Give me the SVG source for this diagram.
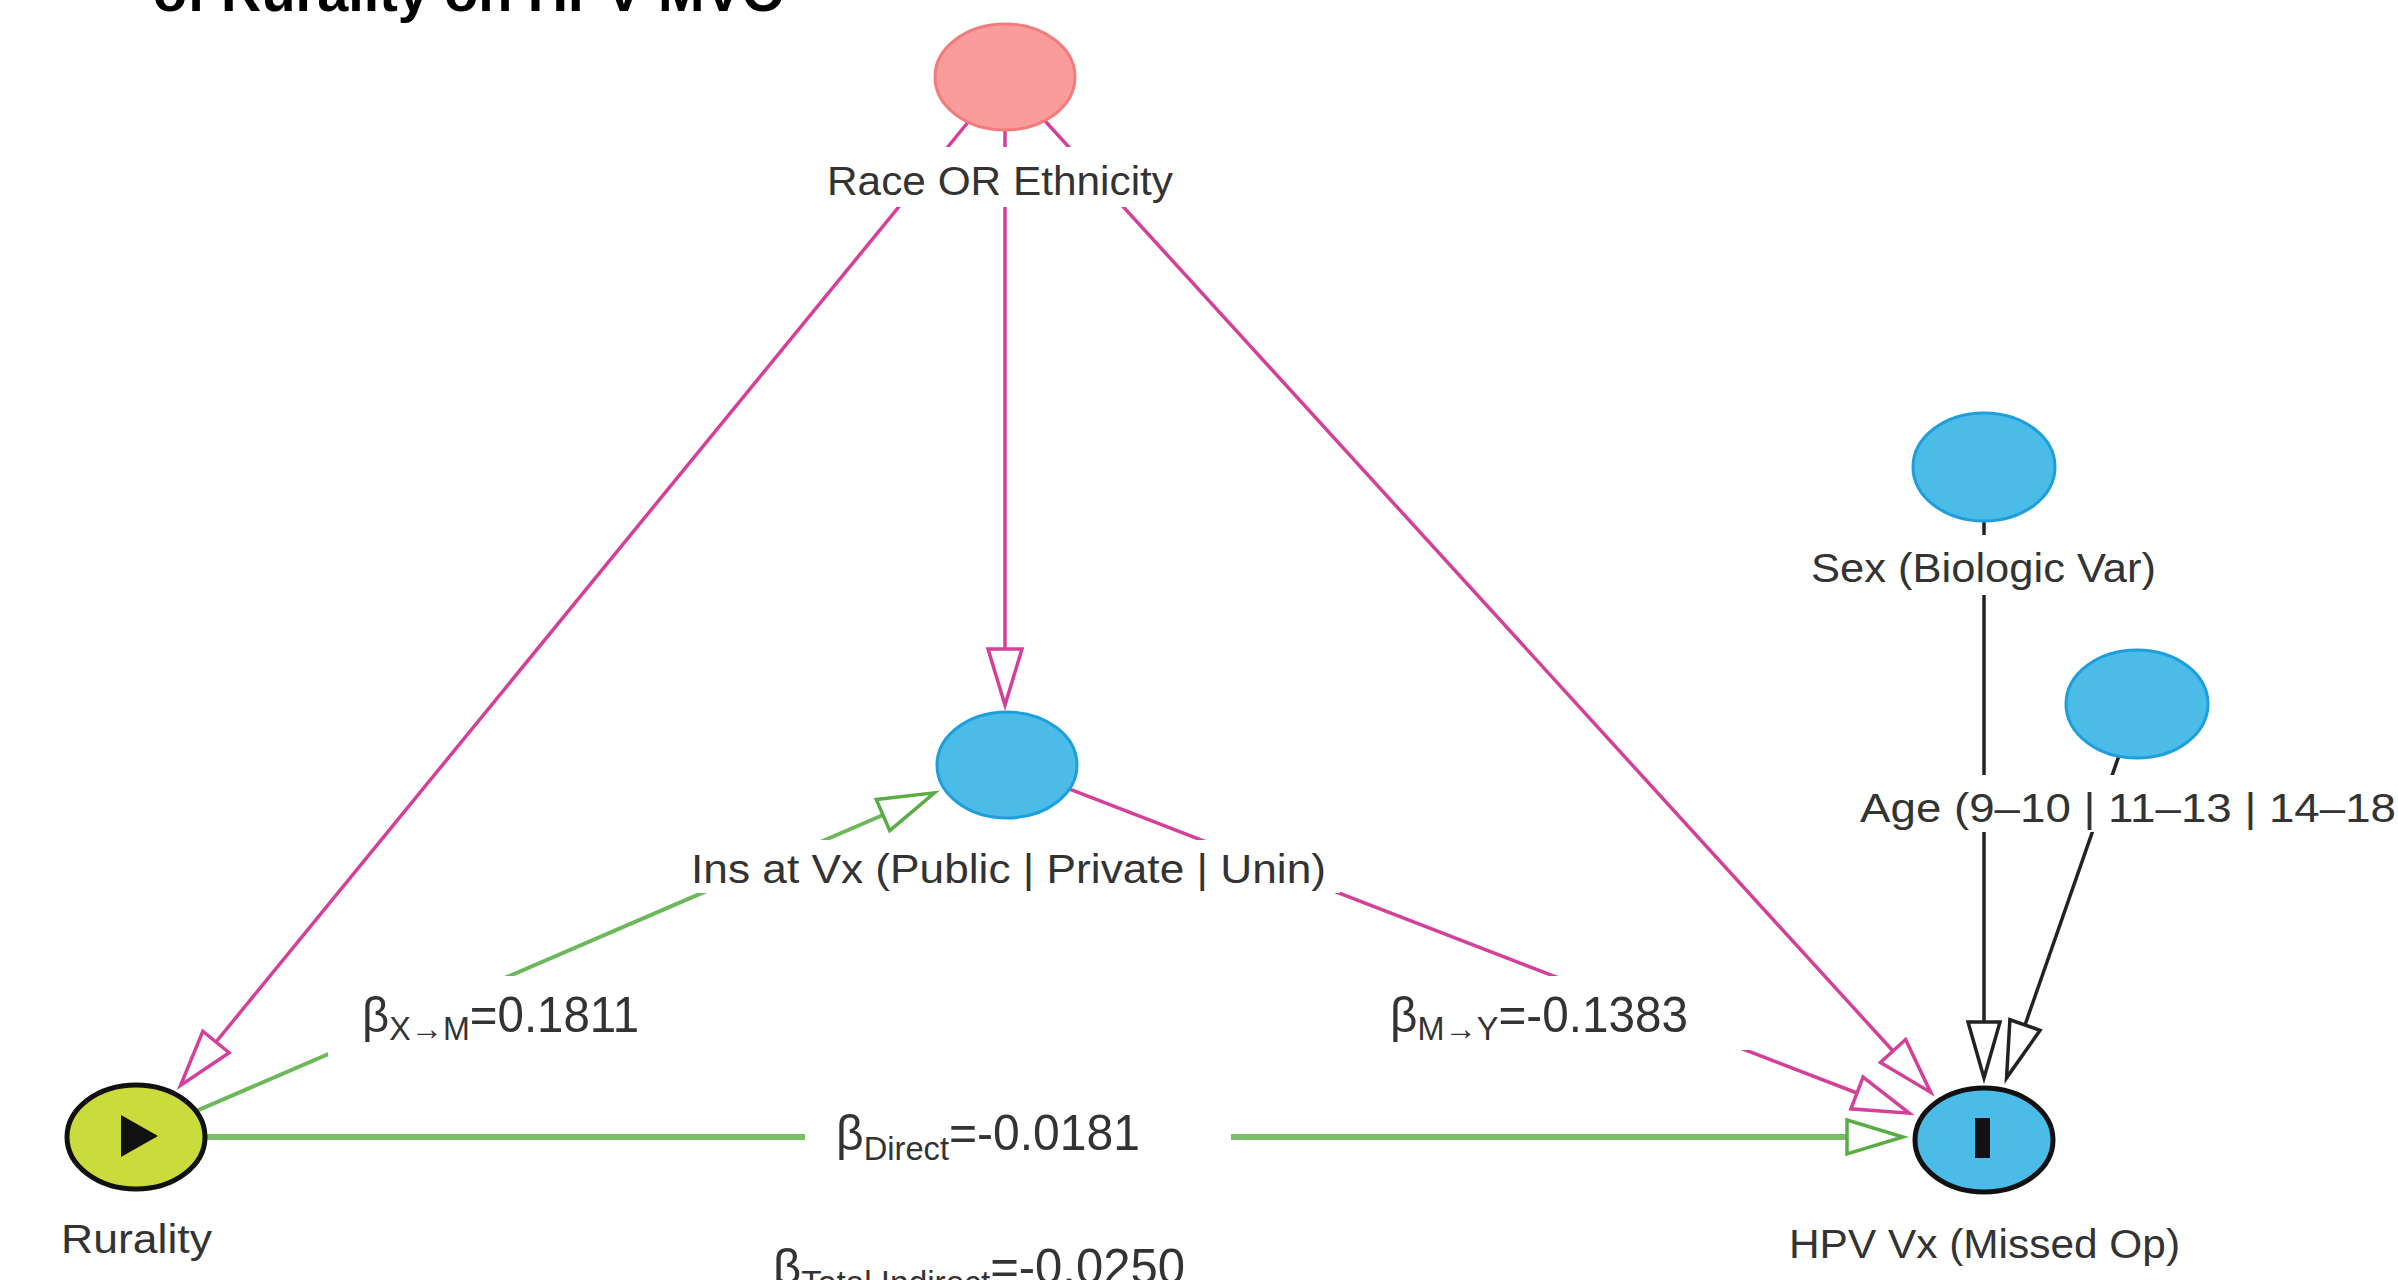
<svg xmlns="http://www.w3.org/2000/svg" width="2398" height="1280" viewBox="0 0 2398 1280">
<style>
.lbl{font-family:"Liberation Sans","Open Sans",Arial,sans-serif;font-size:40px;fill:#333;}
.beta{font-family:"Liberation Sans",Arial,sans-serif;font-size:50px;fill:#333;}
.sub{font-size:34px;}
.bg{fill:#fff;}
.pink{stroke:#d43f9a;stroke-width:3.5;fill:none;}
.green{stroke:#6cb85a;stroke-width:4;fill:none;}
.greenh{stroke:#78c066;stroke-width:6;fill:none;}
.black{stroke:#222;stroke-width:3.5;fill:none;}
.blue{fill:#4bbbe8;stroke:#1e9fdb;stroke-width:3;}
</style>
<defs>
<marker id="ahPink" markerUnits="userSpaceOnUse" markerWidth="64" markerHeight="44" refX="3" refY="20" orient="auto" overflow="visible">
<path d="M3,3 L59,20 L3,37 Z" fill="#fff" stroke="#d43f9a" stroke-width="3.5"/>
</marker>
<marker id="ahGreen" markerUnits="userSpaceOnUse" markerWidth="64" markerHeight="44" refX="3" refY="20" orient="auto" overflow="visible">
<path d="M3,3 L59,20 L3,37 Z" fill="#fff" stroke="#5aad45" stroke-width="3.5"/>
</marker>
<marker id="ahBlack" markerUnits="userSpaceOnUse" markerWidth="64" markerHeight="44" refX="3" refY="20" orient="auto" overflow="visible">
<path d="M3,4 L59,20 L3,36 Z" fill="#fff" stroke="#222" stroke-width="3.5"/>
</marker>
</defs>
<rect width="2398" height="1280" fill="#fff"/>

<g id="title">
<text x="153" y="11" font-family="Liberation Sans,Arial,sans-serif" font-weight="bold" font-size="56" fill="#000" textLength="632" lengthAdjust="spacingAndGlyphs">of Rurality on HPV MVO</text>
</g>

<g id="connectors">
<line id="e-race-rur" class="pink" x1="1005" y1="77" x2="216" y2="1042" marker-end="url(#ahPink)"/>
<line id="e-race-ins" class="pink" x1="1005" y1="77" x2="1005" y2="649" marker-end="url(#ahPink)"/>
<line id="e-race-hpv" class="pink" x1="1005" y1="77" x2="1893" y2="1051" marker-end="url(#ahPink)"/>
<line id="e-ins-hpv" class="pink" x1="1007" y1="765" x2="1857" y2="1093" marker-end="url(#ahPink)"/>
<line id="e-rur-ins" class="green" x1="136" y1="1137" x2="883" y2="815" marker-end="url(#ahGreen)"/>
<line id="e-rur-hpv" class="greenh" x1="136" y1="1137" x2="1847" y2="1137" marker-end="url(#ahGreen)"/>
<line id="e-sex-hpv" class="black" x1="1984" y1="467" x2="1984" y2="1022" marker-end="url(#ahBlack)"/>
<line id="e-age-hpv" class="black" x1="2137" y1="704" x2="2025" y2="1025" marker-end="url(#ahBlack)"/>
</g>

<g id="edge-labels">
<g id="lbl-xm">
<rect class="bg" x="328" y="976" width="322" height="80"/>
<text class="beta" x="362" y="1032" textLength="277" lengthAdjust="spacingAndGlyphs">β<tspan class="sub" dy="8">X→M</tspan><tspan dy="-8">=0.1811</tspan></text>
</g>
<g id="lbl-my">
<rect class="bg" x="1380" y="976" width="370" height="74"/>
<text class="beta" x="1390" y="1032" textLength="298" lengthAdjust="spacingAndGlyphs">β<tspan class="sub" dy="8">M→Y</tspan><tspan dy="-8">=-0.1383</tspan></text>
</g>
<g id="lbl-direct">
<rect class="bg" x="805" y="1105" width="426" height="64"/>
<text class="beta" x="836" y="1150" textLength="304" lengthAdjust="spacingAndGlyphs">β<tspan class="sub" dy="10">Direct</tspan><tspan dy="-10">=-0.0181</tspan></text>
</g>
<g id="lbl-total">
<text class="beta" x="773" y="1284" textLength="412" lengthAdjust="spacingAndGlyphs">β<tspan class="sub" dy="10">Total Indirect</tspan><tspan dy="-10">=-0.0250</tspan></text>
</g>
</g>

<g id="node-race">
<ellipse cx="1005" cy="77" rx="70" ry="53" fill="#fb9c9c" stroke="#f27b7b" stroke-width="3"/>
<rect class="bg" x="820" y="147" width="360" height="60"/>
<text class="lbl" x="827" y="195" textLength="346" lengthAdjust="spacingAndGlyphs">Race OR Ethnicity</text>
</g>

<g id="node-ins">
<ellipse class="blue" cx="1007" cy="765" rx="70" ry="53"/>
<rect class="bg" x="680" y="840" width="660" height="53"/>
<text class="lbl" x="691" y="883" textLength="635" lengthAdjust="spacingAndGlyphs">Ins at Vx (Public | Private | Unin)</text>
</g>

<g id="node-sex">
<ellipse class="blue" cx="1984" cy="467" rx="71" ry="54"/>
<rect class="bg" x="1800" y="535" width="365" height="60"/>
<text class="lbl" x="1811" y="582" textLength="345" lengthAdjust="spacingAndGlyphs">Sex (Biologic Var)</text>
</g>

<g id="node-age">
<ellipse class="blue" cx="2137" cy="704" rx="71" ry="54"/>
<rect class="bg" x="1850" y="775" width="548" height="57"/>
<text class="lbl" x="1860" y="822" textLength="536" lengthAdjust="spacingAndGlyphs">Age (9–10 | 11–13 | 14–18</text>
</g>

<g id="node-rurality">
<ellipse cx="136" cy="1137" rx="69" ry="52" fill="#c9dc3b" stroke="#111" stroke-width="5"/>
<polygon points="121,1115 121,1157 158,1136" fill="#111"/>
<text class="lbl" x="61" y="1253" textLength="151" lengthAdjust="spacingAndGlyphs">Rurality</text>
</g>

<g id="node-hpv">
<ellipse cx="1984" cy="1140" rx="69" ry="52" fill="#4bbbe8" stroke="#111" stroke-width="5"/>
<rect x="1975" y="1118" width="15" height="40" fill="#111"/>
<text class="lbl" x="1789" y="1258" textLength="391" lengthAdjust="spacingAndGlyphs">HPV Vx (Missed Op)</text>
</g>
</svg>
